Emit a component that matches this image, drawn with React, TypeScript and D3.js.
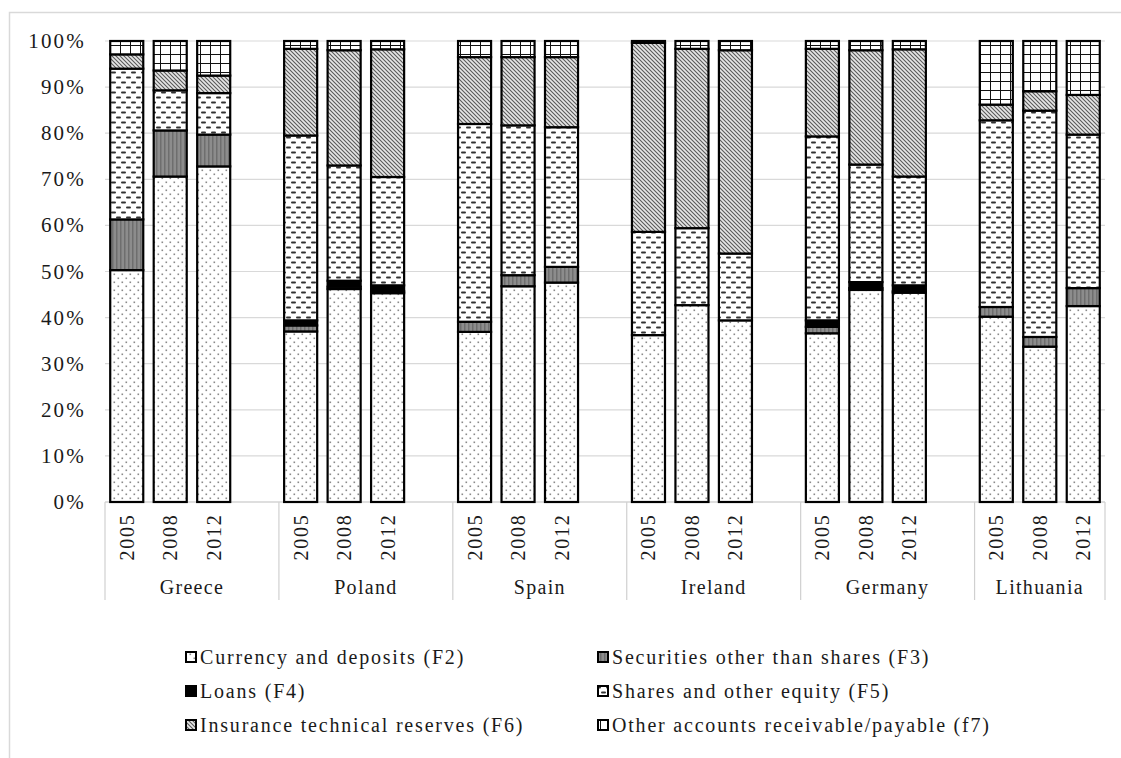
import React from "react";
import * as d3 from "d3";

// Structure of households' financial assets, % of total
const countries = ["Greece", "Poland", "Spain", "Ireland", "Germany", "Lithuania"];
const years = ["2005", "2008", "2012"];

// One value per country-year, in the order of countries x years
const f2 = [50.3, 70.6, 72.8, 37.0, 46.2, 45.3, 36.9, 46.8, 47.6, 36.2, 42.7, 39.4, 36.6, 46.0, 45.4, 40.2, 33.7, 42.5];
const f3 = [11.0, 10.0, 6.9, 1.3, 0.5, 0.4, 2.2, 2.4, 3.4, 0, 0, 0, 1.4, 0.4, 0.3, 2.1, 2.1, 3.9];
const f4 = [0, 0, 0, 1.1, 1.3, 1.3, 0, 0, 0, 0, 0, 0, 1.4, 1.3, 1.3, 0, 0, 0];
const f5 = [32.7, 8.7, 9.0, 40.1, 25.0, 23.5, 42.9, 32.5, 30.3, 22.4, 16.7, 14.5, 39.9, 25.5, 23.6, 40.5, 49.1, 33.3];
const f6 = [3.1, 4.3, 3.8, 18.8, 25.0, 27.7, 14.5, 14.8, 15.2, 41.0, 38.9, 44.1, 19.0, 24.8, 27.6, 3.4, 4.2, 8.6];
const f7 = [2.9, 6.4, 7.5, 1.7, 2.0, 1.8, 3.5, 3.5, 3.5, 0.4, 1.7, 2.0, 1.7, 2.0, 1.8, 13.8, 10.9, 11.7];

const seriesKeys = ["f2", "f3", "f4", "f5", "f6", "f7"];
const seriesLabels = [
  "Currency and deposits (F2)",
  "Securities other than shares (F3)",
  "Loans (F4)",
  "Shares and other equity (F5)",
  "Insurance technical reserves (F6)",
  "Other accounts receivable/payable (f7)",
];
const yTicks = [0, 10, 20, 30, 40, 50, 60, 70, 80, 90, 100];

const W = 1121;
const H = 758;
const FONT = "'Liberation Serif', 'Times New Roman', serif";
const plot = { left: 105, right: 1105, top: 41, bottom: 502 };

// rows for d3.stack
const rows = countries.flatMap((c, ci) =>
  years.map((yr, yi) => {
    const i = ci * 3 + yi;
    return { country: c, year: yr, slot: ci * 4 + yi, f2: f2[i], f3: f3[i], f4: f4[i], f5: f5[i], f6: f6[i], f7: f7[i] };
  })
);

const fills: Record<string, string> = {
  f2: "url(#pF2)",
  f3: "url(#pF3)",
  f4: "#000",
  f5: "url(#pF5)",
  f6: "url(#pF6)",
  f7: "url(#pF7)",
};

function Patterns() {
  return (
    <defs>
      <pattern id="pF2" width="8" height="8" patternUnits="userSpaceOnUse">
        <rect width="8" height="8" fill="#fff" />
        <rect x="1.5" y="1.5" width="1.6" height="1.6" fill="#8a8a8a" />
        <rect x="5.5" y="5.5" width="1.6" height="1.6" fill="#8a8a8a" />
      </pattern>
      <pattern id="pF3" width="4" height="4" patternUnits="userSpaceOnUse">
        <rect width="4" height="4" fill="#8c8c8c" />
        <rect x="0" width="1.5" height="4" fill="#6e6e6e" />
      </pattern>
      <pattern id="pF5" width="10" height="10" patternUnits="userSpaceOnUse">
        <rect width="10" height="10" fill="#fff" />
        <rect x="1" y="1.5" width="5" height="2" rx="1" fill="#333" />
        <rect x="6" y="6.5" width="5" height="2" rx="1" fill="#333" />
        <rect x="-4" y="6.5" width="5" height="2" rx="1" fill="#333" />
      </pattern>
      <pattern id="pF6" width="4" height="4" patternUnits="userSpaceOnUse">
        <rect width="4" height="4" fill="#e6e6e6" />
        <path d="M-1,-1 L5,5 M-1,3 L1,5 M3,-1 L5,1" stroke="#5a5a5a" strokeWidth="1.1" />
      </pattern>
      <pattern id="pF7" width="10" height="9" patternUnits="userSpaceOnUse">
        <rect width="10" height="9" fill="#fff" />
        <path d="M0,0 V9 M0,0 H10" stroke="#111" strokeWidth="2" />
      </pattern>
    </defs>
  );
}

export default function App() {
  const x = d3
    .scaleBand<number>()
    .domain(d3.range(23))
    .range([plot.left, plot.right])
    .paddingInner(0.24)
    .paddingOuter(0.12);
  const y = d3.scaleLinear().domain([0, 100]).range([plot.bottom, plot.top]);
  const stacked = d3.stack<any>().keys(seriesKeys)(rows);
  const step = x.step();

  const groupEdges = countries.map((_, ci) => plot.left + ci * 4 * step);
  groupEdges.push(plot.right);

  const legendCols = [186, 598];
  const legendRows = [657, 691, 725];

  return (
    <svg width={W} height={H} style={{ position: "absolute", left: 0, top: 0 }} fontFamily={FONT}>
      <Patterns />
      <rect x={0} y={0} width={W} height={H} fill="#fff" />
      <rect x={9.5} y={12.5} width={W + 50} height={H + 50} fill="none" stroke="#d9d9d9" strokeWidth={1.5} />

      {/* gridlines */}
      {yTicks.map((t) => (
        <line key={t} x1={plot.left} x2={plot.right} y1={y(t)} y2={y(t)} stroke="#d9d9d9" strokeWidth={1.2} />
      ))}
      {yTicks.map((t) => (
        <text key={"l" + t} x={86} y={y(t) + 7} textAnchor="end" fontSize={21} letterSpacing={2.2} fill="#1a1a1a">
          {t}%
        </text>
      ))}

      {/* category axis */}
      <line x1={plot.left} x2={plot.right} y1={plot.bottom} y2={plot.bottom} stroke="#d0d0d0" strokeWidth={1.2} />
      {groupEdges.map((gx, i) => (
        <line key={"g" + i} x1={gx} x2={gx} y1={plot.bottom} y2={600} stroke="#d0d0d0" strokeWidth={1.2} />
      ))}
      {rows.map((r) => {
        const cx = (x(r.slot) as number) + x.bandwidth() / 2;
        return (
          <text
            key={"y" + r.slot}
            transform={`translate(${cx + 7},537) rotate(-90)`}
            textAnchor="middle"
            fontSize={20}
            letterSpacing={1.8}
            fill="#1a1a1a"
          >
            {r.year}
          </text>
        );
      })}
      {countries.map((c, ci) => (
        <text
          key={c}
          x={(groupEdges[ci] + (ci === countries.length - 1 ? plot.right : groupEdges[ci] + 4 * step)) / 2}
          y={594}
          textAnchor="middle"
          fontSize={20}
          letterSpacing={1.3}
          fill="#1a1a1a"
        >
          {c}
        </text>
      ))}

      {/* bars */}
      {stacked.map((layer) =>
        layer.map((d: any) => {
          const h = y(d[0]) - y(d[1]);
          if (h <= 0) return null;
          return (
            <rect
              key={layer.key + d.data.slot}
              x={x(d.data.slot)}
              y={y(d[1])}
              width={x.bandwidth()}
              height={h}
              fill={fills[layer.key]}
              stroke="#000"
              strokeWidth={2.2}
            />
          );
        })
      )}

      {/* legend */}
      {seriesKeys.map((k, i) => {
        const lx = legendCols[i % 2];
        const ly = legendRows[Math.floor(i / 2)];
        return (
          <g key={"lg" + k}>
            <rect x={lx} y={ly - 5} width={10} height={10} fill={fills[k]} stroke="#000" strokeWidth={2} />
            <text x={lx + 14} y={ly + 7} fontSize={20} letterSpacing={1.8} fill="#1a1a1a">
              {seriesLabels[i]}
            </text>
          </g>
        );
      })}
    </svg>
  );
}
